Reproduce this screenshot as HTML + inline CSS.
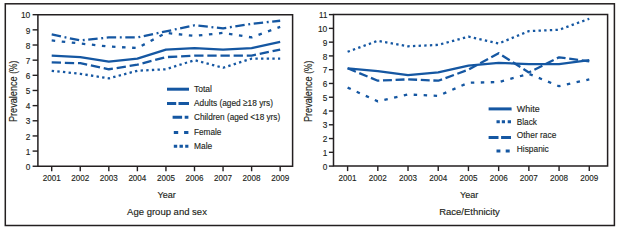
<!DOCTYPE html>
<html><head><meta charset="utf-8"><style>
html,body{margin:0;padding:0;background:#fff;}
body{width:619px;height:228px;overflow:hidden;}
svg{display:block;}
text{font-family:"Liberation Sans", sans-serif;fill:#231f20;stroke:#231f20;stroke-width:0.15px;}
</style></head><body>
<svg width="619" height="228" viewBox="0 0 619 228">
<rect x="5.3" y="3.8" width="609.1" height="221.7" fill="none" stroke="#231f20" stroke-width="1.5"/>
<path d="M37.9,14.7 H292.6 V166.25 H37.9 Z" fill="none" stroke="#231f20" stroke-width="1.5"/>
<line x1="32.6" y1="166.25" x2="37.9" y2="166.25" stroke="#231f20" stroke-width="1.4"/>
<text x="30.3" y="169.95" font-size="9.2" text-anchor="end" textLength="4.6" lengthAdjust="spacingAndGlyphs" >0</text>
<line x1="32.6" y1="151.09" x2="37.9" y2="151.09" stroke="#231f20" stroke-width="1.4"/>
<text x="30.3" y="154.79" font-size="9.2" text-anchor="end" textLength="4.6" lengthAdjust="spacingAndGlyphs" >1</text>
<line x1="32.6" y1="135.94" x2="37.9" y2="135.94" stroke="#231f20" stroke-width="1.4"/>
<text x="30.3" y="139.64" font-size="9.2" text-anchor="end" textLength="4.6" lengthAdjust="spacingAndGlyphs" >2</text>
<line x1="32.6" y1="120.78" x2="37.9" y2="120.78" stroke="#231f20" stroke-width="1.4"/>
<text x="30.3" y="124.48" font-size="9.2" text-anchor="end" textLength="4.6" lengthAdjust="spacingAndGlyphs" >3</text>
<line x1="32.6" y1="105.63" x2="37.9" y2="105.63" stroke="#231f20" stroke-width="1.4"/>
<text x="30.3" y="109.33" font-size="9.2" text-anchor="end" textLength="4.6" lengthAdjust="spacingAndGlyphs" >4</text>
<line x1="32.6" y1="90.47" x2="37.9" y2="90.47" stroke="#231f20" stroke-width="1.4"/>
<text x="30.3" y="94.17" font-size="9.2" text-anchor="end" textLength="4.6" lengthAdjust="spacingAndGlyphs" >5</text>
<line x1="32.6" y1="75.32" x2="37.9" y2="75.32" stroke="#231f20" stroke-width="1.4"/>
<text x="30.3" y="79.02" font-size="9.2" text-anchor="end" textLength="4.6" lengthAdjust="spacingAndGlyphs" >6</text>
<line x1="32.6" y1="60.16" x2="37.9" y2="60.16" stroke="#231f20" stroke-width="1.4"/>
<text x="30.3" y="63.86" font-size="9.2" text-anchor="end" textLength="4.6" lengthAdjust="spacingAndGlyphs" >7</text>
<line x1="32.6" y1="45.01" x2="37.9" y2="45.01" stroke="#231f20" stroke-width="1.4"/>
<text x="30.3" y="48.71" font-size="9.2" text-anchor="end" textLength="4.6" lengthAdjust="spacingAndGlyphs" >8</text>
<line x1="32.6" y1="29.85" x2="37.9" y2="29.85" stroke="#231f20" stroke-width="1.4"/>
<text x="30.3" y="33.55" font-size="9.2" text-anchor="end" textLength="4.6" lengthAdjust="spacingAndGlyphs" >9</text>
<line x1="32.6" y1="14.7" x2="37.9" y2="14.7" stroke="#231f20" stroke-width="1.4"/>
<text x="30.3" y="18.4" font-size="9.2" text-anchor="end" textLength="9.4" lengthAdjust="spacingAndGlyphs" >10</text>
<line x1="51.7" y1="166.25" x2="51.7" y2="171.25" stroke="#231f20" stroke-width="1.4"/>
<text x="51.7" y="181" font-size="9.3" text-anchor="middle" textLength="18" lengthAdjust="spacingAndGlyphs" >2001</text>
<line x1="80.26" y1="166.25" x2="80.26" y2="171.25" stroke="#231f20" stroke-width="1.4"/>
<text x="80.26" y="181" font-size="9.3" text-anchor="middle" textLength="18" lengthAdjust="spacingAndGlyphs" >2002</text>
<line x1="108.82" y1="166.25" x2="108.82" y2="171.25" stroke="#231f20" stroke-width="1.4"/>
<text x="108.82" y="181" font-size="9.3" text-anchor="middle" textLength="18" lengthAdjust="spacingAndGlyphs" >2003</text>
<line x1="137.38" y1="166.25" x2="137.38" y2="171.25" stroke="#231f20" stroke-width="1.4"/>
<text x="137.38" y="181" font-size="9.3" text-anchor="middle" textLength="18" lengthAdjust="spacingAndGlyphs" >2004</text>
<line x1="165.94" y1="166.25" x2="165.94" y2="171.25" stroke="#231f20" stroke-width="1.4"/>
<text x="165.94" y="181" font-size="9.3" text-anchor="middle" textLength="18" lengthAdjust="spacingAndGlyphs" >2005</text>
<line x1="194.5" y1="166.25" x2="194.5" y2="171.25" stroke="#231f20" stroke-width="1.4"/>
<text x="194.5" y="181" font-size="9.3" text-anchor="middle" textLength="18" lengthAdjust="spacingAndGlyphs" >2006</text>
<line x1="223.06" y1="166.25" x2="223.06" y2="171.25" stroke="#231f20" stroke-width="1.4"/>
<text x="223.06" y="181" font-size="9.3" text-anchor="middle" textLength="18" lengthAdjust="spacingAndGlyphs" >2007</text>
<line x1="251.62" y1="166.25" x2="251.62" y2="171.25" stroke="#231f20" stroke-width="1.4"/>
<text x="251.62" y="181" font-size="9.3" text-anchor="middle" textLength="18" lengthAdjust="spacingAndGlyphs" >2008</text>
<line x1="280.18" y1="166.25" x2="280.18" y2="171.25" stroke="#231f20" stroke-width="1.4"/>
<text x="280.18" y="181" font-size="9.3" text-anchor="middle" textLength="18" lengthAdjust="spacingAndGlyphs" >2009</text>
<text x="166.6" y="198.1" font-size="9.4" text-anchor="middle" textLength="18.3" lengthAdjust="spacingAndGlyphs" >Year</text>
<text x="167" y="215.2" font-size="9.4" text-anchor="middle" textLength="79.8" lengthAdjust="spacingAndGlyphs" >Age group and sex</text>
<text x="0" y="0" font-size="10" textLength="45.8" lengthAdjust="spacingAndGlyphs" transform="translate(16.5,122.1) rotate(-90)">Prevalence</text>
<text x="0" y="0" font-size="10" textLength="12.9" lengthAdjust="spacingAndGlyphs" transform="translate(16.5,73.7) rotate(-90)">(%)</text>
<path d="M51.7,55.62 L80.26,57.13 L108.82,61.68 L137.38,58.65 L165.94,49.56 L194.5,48.04 L223.06,49.56 L251.62,48.04 L280.18,41.98" fill="none" stroke="#1557a2" stroke-width="2.3" stroke-linejoin="round"/>
<path d="M51.7,62.44 L80.26,63.2 L108.82,69.26 L137.38,64.71 L165.94,57.13 L194.5,55.62 L223.06,55.62 L251.62,55.62 L280.18,49.56" fill="none" stroke="#1557a2" stroke-width="2.3" stroke-linejoin="round" stroke-dasharray="9.31 3.83"/>
<path d="M51.7,34.4 L80.26,40.46 L108.82,37.43 L137.38,37.43 L165.94,31.37 L194.5,25.31 L223.06,28.34 L251.62,23.79 L280.18,20.76" fill="none" stroke="#1557a2" stroke-width="2.3" stroke-linejoin="round" stroke-dasharray="9.45 3.66 1.93 3.56"/>
<path d="M51.7,40.46 L80.26,43.49 L108.82,46.53 L137.38,48.04 L165.94,32.89 L194.5,35.92 L223.06,32.89 L251.62,37.43 L280.18,26.82" fill="none" stroke="#1557a2" stroke-width="2.3" stroke-linejoin="round" stroke-dasharray="3.5 6.6"/>
<path d="M51.7,70.77 L80.26,73.8 L108.82,78.35 L137.38,70.77 L165.94,69.26 L194.5,60.16 L223.06,67.74 L251.62,58.65 L280.18,58.65" fill="none" stroke="#1557a2" stroke-width="2.3" stroke-linejoin="round" stroke-dasharray="2.38 3.27"/>
<path d="M333.5,14.6 H607.6 V166.1 H333.5 Z" fill="none" stroke="#231f20" stroke-width="1.5"/>
<line x1="328.9" y1="166.1" x2="333.5" y2="166.1" stroke="#231f20" stroke-width="1.4"/>
<text x="327.3" y="169.8" font-size="9.2" text-anchor="end" textLength="4.6" lengthAdjust="spacingAndGlyphs" >0</text>
<line x1="328.9" y1="152.33" x2="333.5" y2="152.33" stroke="#231f20" stroke-width="1.4"/>
<text x="327.3" y="156.03" font-size="9.2" text-anchor="end" textLength="4.6" lengthAdjust="spacingAndGlyphs" >1</text>
<line x1="328.9" y1="138.55" x2="333.5" y2="138.55" stroke="#231f20" stroke-width="1.4"/>
<text x="327.3" y="142.25" font-size="9.2" text-anchor="end" textLength="4.6" lengthAdjust="spacingAndGlyphs" >2</text>
<line x1="328.9" y1="124.78" x2="333.5" y2="124.78" stroke="#231f20" stroke-width="1.4"/>
<text x="327.3" y="128.48" font-size="9.2" text-anchor="end" textLength="4.6" lengthAdjust="spacingAndGlyphs" >3</text>
<line x1="328.9" y1="111.01" x2="333.5" y2="111.01" stroke="#231f20" stroke-width="1.4"/>
<text x="327.3" y="114.71" font-size="9.2" text-anchor="end" textLength="4.6" lengthAdjust="spacingAndGlyphs" >4</text>
<line x1="328.9" y1="97.24" x2="333.5" y2="97.24" stroke="#231f20" stroke-width="1.4"/>
<text x="327.3" y="100.94" font-size="9.2" text-anchor="end" textLength="4.6" lengthAdjust="spacingAndGlyphs" >5</text>
<line x1="328.9" y1="83.46" x2="333.5" y2="83.46" stroke="#231f20" stroke-width="1.4"/>
<text x="327.3" y="87.16" font-size="9.2" text-anchor="end" textLength="4.6" lengthAdjust="spacingAndGlyphs" >6</text>
<line x1="328.9" y1="69.69" x2="333.5" y2="69.69" stroke="#231f20" stroke-width="1.4"/>
<text x="327.3" y="73.39" font-size="9.2" text-anchor="end" textLength="4.6" lengthAdjust="spacingAndGlyphs" >7</text>
<line x1="328.9" y1="55.92" x2="333.5" y2="55.92" stroke="#231f20" stroke-width="1.4"/>
<text x="327.3" y="59.62" font-size="9.2" text-anchor="end" textLength="4.6" lengthAdjust="spacingAndGlyphs" >8</text>
<line x1="328.9" y1="42.15" x2="333.5" y2="42.15" stroke="#231f20" stroke-width="1.4"/>
<text x="327.3" y="45.85" font-size="9.2" text-anchor="end" textLength="4.6" lengthAdjust="spacingAndGlyphs" >9</text>
<line x1="328.9" y1="28.37" x2="333.5" y2="28.37" stroke="#231f20" stroke-width="1.4"/>
<text x="327.3" y="32.07" font-size="9.2" text-anchor="end" textLength="9.4" lengthAdjust="spacingAndGlyphs" >10</text>
<line x1="328.9" y1="14.6" x2="333.5" y2="14.6" stroke="#231f20" stroke-width="1.4"/>
<text x="327.3" y="18.3" font-size="9.2" text-anchor="end" textLength="8.2" lengthAdjust="spacingAndGlyphs" >11</text>
<line x1="347.6" y1="166.1" x2="347.6" y2="171.1" stroke="#231f20" stroke-width="1.4"/>
<text x="347.6" y="181" font-size="9.3" text-anchor="middle" textLength="18" lengthAdjust="spacingAndGlyphs" >2001</text>
<line x1="377.81" y1="166.1" x2="377.81" y2="171.1" stroke="#231f20" stroke-width="1.4"/>
<text x="377.81" y="181" font-size="9.3" text-anchor="middle" textLength="18" lengthAdjust="spacingAndGlyphs" >2002</text>
<line x1="408.02" y1="166.1" x2="408.02" y2="171.1" stroke="#231f20" stroke-width="1.4"/>
<text x="408.02" y="181" font-size="9.3" text-anchor="middle" textLength="18" lengthAdjust="spacingAndGlyphs" >2003</text>
<line x1="438.23" y1="166.1" x2="438.23" y2="171.1" stroke="#231f20" stroke-width="1.4"/>
<text x="438.23" y="181" font-size="9.3" text-anchor="middle" textLength="18" lengthAdjust="spacingAndGlyphs" >2004</text>
<line x1="468.44" y1="166.1" x2="468.44" y2="171.1" stroke="#231f20" stroke-width="1.4"/>
<text x="468.44" y="181" font-size="9.3" text-anchor="middle" textLength="18" lengthAdjust="spacingAndGlyphs" >2005</text>
<line x1="498.65" y1="166.1" x2="498.65" y2="171.1" stroke="#231f20" stroke-width="1.4"/>
<text x="498.65" y="181" font-size="9.3" text-anchor="middle" textLength="18" lengthAdjust="spacingAndGlyphs" >2006</text>
<line x1="528.86" y1="166.1" x2="528.86" y2="171.1" stroke="#231f20" stroke-width="1.4"/>
<text x="528.86" y="181" font-size="9.3" text-anchor="middle" textLength="18" lengthAdjust="spacingAndGlyphs" >2007</text>
<line x1="559.07" y1="166.1" x2="559.07" y2="171.1" stroke="#231f20" stroke-width="1.4"/>
<text x="559.07" y="181" font-size="9.3" text-anchor="middle" textLength="18" lengthAdjust="spacingAndGlyphs" >2008</text>
<line x1="589.28" y1="166.1" x2="589.28" y2="171.1" stroke="#231f20" stroke-width="1.4"/>
<text x="589.28" y="181" font-size="9.3" text-anchor="middle" textLength="18" lengthAdjust="spacingAndGlyphs" >2009</text>
<text x="469.1" y="198.1" font-size="9.4" text-anchor="middle" textLength="18.3" lengthAdjust="spacingAndGlyphs" >Year</text>
<text x="469.5" y="215.2" font-size="9.4" text-anchor="middle" textLength="60.6" lengthAdjust="spacingAndGlyphs" >Race/Ethnicity</text>
<text x="0" y="0" font-size="10" textLength="45.8" lengthAdjust="spacingAndGlyphs" transform="translate(311.8,122.1) rotate(-90)">Prevalence</text>
<text x="0" y="0" font-size="10" textLength="12.9" lengthAdjust="spacingAndGlyphs" transform="translate(311.8,73.7) rotate(-90)">(%)</text>
<path d="M347.6,68.31 L377.81,71.07 L408.02,75.2 L438.23,72.45 L468.44,65.56 L498.65,62.8 L528.86,64.18 L559.07,64.18 L589.28,60.05" fill="none" stroke="#1557a2" stroke-width="2.3" stroke-linejoin="round"/>
<path d="M347.6,51.79 L377.81,40.77 L408.02,46.28 L438.23,44.9 L468.44,36.64 L498.65,43.52 L528.86,31.13 L559.07,29.75 L589.28,18.73" fill="none" stroke="#1557a2" stroke-width="2.3" stroke-linejoin="round" stroke-dasharray="2.38 3.27"/>
<path d="M347.6,68.31 L377.81,80.71 L408.02,79.33 L438.23,80.71 L468.44,69.69 L498.65,53.16 L528.86,72.45 L559.07,57.3 L589.28,61.43" fill="none" stroke="#1557a2" stroke-width="2.3" stroke-linejoin="round" stroke-dasharray="8.94 3.67"/>
<path d="M347.6,87.6 L377.81,101.37 L408.02,94.48 L438.23,95.86 L468.44,82.77 L498.65,82.09 L528.86,73.82 L559.07,86.22 L589.28,79.33" fill="none" stroke="#1557a2" stroke-width="2.3" stroke-linejoin="round" stroke-dasharray="3.46 6.52"/>
<path d="M167,89.2 H189" stroke="#1557a2" stroke-width="3.0" fill="none"/>
<text x="194" y="92" font-size="9.9" text-anchor="start" textLength="18" lengthAdjust="spacingAndGlyphs" >Total</text>
<path d="M167,103.4 H189" stroke="#1557a2" stroke-width="3.0" stroke-dasharray="9.2 2.3 10.5 5" fill="none"/>
<text x="194" y="106.4" font-size="9.9" text-anchor="start" textLength="79" lengthAdjust="spacingAndGlyphs" >Adults (aged ≥18 yrs)</text>
<path d="M172.6,117.3 H188.4" stroke="#1557a2" stroke-width="3.0" stroke-dasharray="9.5 2.6 3.7 5" fill="none"/>
<text x="194" y="120.3" font-size="9.9" text-anchor="start" textLength="86.2" lengthAdjust="spacingAndGlyphs" >Children (aged &lt;18 yrs)</text>
<path d="M173.8,132.4 H188.4" stroke="#1557a2" stroke-width="3.0" stroke-dasharray="4.4 5.9 4.3 5" fill="none"/>
<text x="194" y="135" font-size="9.9" text-anchor="start" textLength="27.4" lengthAdjust="spacingAndGlyphs" >Female</text>
<path d="M173.8,146.3 H188.4" stroke="#1557a2" stroke-width="3.0" stroke-dasharray="3.4 2.3 3.4 2.3 3.4 5" fill="none"/>
<text x="194" y="149.2" font-size="9.9" text-anchor="start" textLength="18.2" lengthAdjust="spacingAndGlyphs" >Male</text>
<path d="M488.6,108.9 H511.6" stroke="#1557a2" stroke-width="3.0" fill="none"/>
<text x="516.8" y="111.7" font-size="9.9" text-anchor="start" textLength="22.8" lengthAdjust="spacingAndGlyphs" >White</text>
<path d="M496.5,121.8 H511" stroke="#1557a2" stroke-width="3.0" stroke-dasharray="3.3 2 3.2 2.7 3.3 5" fill="none"/>
<text x="516.8" y="124.9" font-size="9.9" text-anchor="start" textLength="20.1" lengthAdjust="spacingAndGlyphs" >Black</text>
<path d="M488.6,137.5 H511" stroke="#1557a2" stroke-width="3.0" stroke-dasharray="9.9 2.6 9.9 5" fill="none"/>
<text x="516.8" y="138.4" font-size="9.9" text-anchor="start" textLength="39.5" lengthAdjust="spacingAndGlyphs" >Other race</text>
<path d="M496.5,150.9 H509.7" stroke="#1557a2" stroke-width="3.0" stroke-dasharray="3.9 5.3 4 5" fill="none"/>
<text x="516.8" y="152.2" font-size="9.9" text-anchor="start" textLength="32" lengthAdjust="spacingAndGlyphs" >Hispanic</text>
</svg>
</body></html>
